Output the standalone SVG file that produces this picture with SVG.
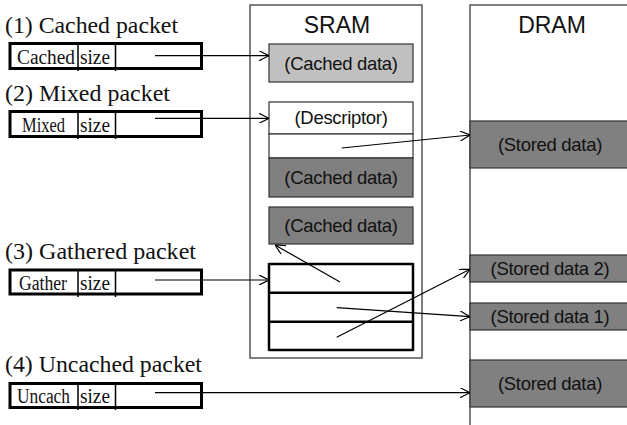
<svg xmlns="http://www.w3.org/2000/svg" width="627" height="425" viewBox="0 0 627 425">
<style>
.title{font-family:"Liberation Serif","Times New Roman",serif;font-size:24px;fill:#111}
.ptxt{font-family:"Liberation Serif","Times New Roman",serif;font-size:20px;fill:#111}
.pbox{fill:#fff;stroke:#000;stroke-width:3}
.div{stroke:#000;stroke-width:1.5}
.mem{fill:#fff;stroke:#555;stroke-width:1.5}
.head{font-family:"Liberation Sans",Arial,sans-serif;font-size:23px;fill:#111;text-anchor:middle}
.lbl{font-family:"Liberation Sans",Arial,sans-serif;font-size:18.5px;letter-spacing:-0.3px;fill:#111;text-anchor:middle}
.light{fill:#c0c0c0;stroke:#333;stroke-width:1.2}
.dark{fill:#808080;stroke:#333;stroke-width:1.2}
.white{fill:#fff;stroke:#333;stroke-width:1.2}
.grid{stroke:#000;stroke-width:2.5;fill:none}
.conn{stroke:#000;stroke-width:1.2;fill:none;marker-end:url(#arr)}
</style>
<defs>
<marker id="arr" viewBox="0 0 10 10" refX="10" refY="5" markerWidth="10" markerHeight="10" markerUnits="userSpaceOnUse" orient="auto">
<path d="M0,0 L10,5 L0,10" fill="none" stroke="#000" stroke-width="1.2"/>
</marker>
</defs>

<g id="sram">
<rect class="mem" x="250" y="5" width="172" height="353"/>
<text class="head" x="337" y="33">SRAM</text>
</g>
<g id="dram">
<rect class="mem" x="470" y="5" width="180" height="440"/>
<text class="head" x="552" y="33">DRAM</text>
</g>

<g id="sram-cached1">
<rect class="light" x="269" y="44" width="144" height="38"/>
<text class="lbl" x="341" y="70">(Cached data)</text>
</g>
<g id="sram-mixed">
<rect class="white" x="269" y="102" width="144" height="32"/>
<text class="lbl" x="341" y="124">(Descriptor)</text>
<rect class="white" x="269" y="134" width="144" height="24"/>
<rect class="dark" x="269" y="158" width="144" height="39"/>
<text class="lbl" x="341" y="184">(Cached data)</text>
</g>
<g id="sram-cached3">
<rect class="dark" x="269" y="207" width="144" height="37"/>
<text class="lbl" x="341" y="232">(Cached data)</text>
</g>
<g id="sram-gather">
<rect fill="#fff" x="269" y="264" width="144" height="86"/>
<path class="grid" d="M269,264 H413 M269,292.7 H413 M269,321.7 H413 M269,350 H413 M269,263 V351 M413,263 V351"/>
</g>

<g id="dram-stored1">
<rect class="dark" x="470" y="121" width="170" height="47"/>
<text class="lbl" x="550" y="151">(Stored data)</text>
</g>
<g id="dram-stored2">
<rect class="dark" x="470" y="255" width="170" height="27"/>
<text class="lbl" x="550" y="275">(Stored data 2)</text>
</g>
<g id="dram-stored-1">
<rect class="dark" x="470" y="303" width="170" height="27"/>
<text class="lbl" x="550" y="323">(Stored data 1)</text>
</g>
<g id="dram-stored4">
<rect class="dark" x="470" y="360" width="170" height="47"/>
<text class="lbl" x="550" y="390">(Stored data)</text>
</g>

<g id="pkt1">
<text class="title" x="5" y="33" textLength="173" lengthAdjust="spacingAndGlyphs">(1) Cached packet</text>
<rect class="pbox" x="10" y="43.5" width="191.5" height="25"/>
<path class="div" d="M78,43.5 V71 M115.5,43.5 V71"/>
<text class="ptxt" x="17" y="64" textLength="58" lengthAdjust="spacingAndGlyphs">Cached</text>
<text class="ptxt" x="80" y="64" textLength="30" lengthAdjust="spacingAndGlyphs">size</text>
</g>
<g id="pkt2">
<text class="title" x="5" y="101" textLength="165" lengthAdjust="spacingAndGlyphs">(2) Mixed packet</text>
<rect class="pbox" x="10" y="111.5" width="191.5" height="25"/>
<path class="div" d="M78,111.5 V139 M115.5,111.5 V139"/>
<text class="ptxt" x="22" y="132" textLength="43" lengthAdjust="spacingAndGlyphs">Mixed</text>
<text class="ptxt" x="80" y="132" textLength="30" lengthAdjust="spacingAndGlyphs">size</text>
</g>
<g id="pkt3">
<text class="title" x="5" y="259" textLength="191" lengthAdjust="spacingAndGlyphs">(3) Gathered packet</text>
<rect class="pbox" x="10" y="270" width="191.5" height="24"/>
<path class="div" d="M78,270 V297 M115.5,270 V297"/>
<text class="ptxt" x="19" y="290" textLength="48" lengthAdjust="spacingAndGlyphs">Gather</text>
<text class="ptxt" x="80" y="290" textLength="30" lengthAdjust="spacingAndGlyphs">size</text>
</g>
<g id="pkt4">
<text class="title" x="5" y="372" textLength="197" lengthAdjust="spacingAndGlyphs">(4) Uncached packet</text>
<rect class="pbox" x="10" y="383.5" width="191.5" height="24"/>
<path class="div" d="M78,383.5 V410 M115.5,383.5 V410"/>
<text class="ptxt" x="17" y="403" textLength="53" lengthAdjust="spacingAndGlyphs">Uncach</text>
<text class="ptxt" x="80" y="403" textLength="30" lengthAdjust="spacingAndGlyphs">size</text>
</g>

<g id="connectors">
<line class="conn" x1="155" y1="55.7" x2="269" y2="55.7"/>
<line class="conn" x1="155" y1="118.3" x2="269" y2="118.3"/>
<line class="conn" x1="155" y1="280" x2="269" y2="280"/>
<line class="conn" x1="155" y1="392.7" x2="470" y2="392.7"/>
<line class="conn" x1="341.7" y1="148" x2="470" y2="135"/>
<line class="conn" x1="340" y1="282" x2="275" y2="245"/>
<line class="conn" x1="336.7" y1="307.7" x2="470" y2="316.7"/>
<line class="conn" x1="336.7" y1="337.3" x2="470" y2="269.3"/>
</g>
</svg>
